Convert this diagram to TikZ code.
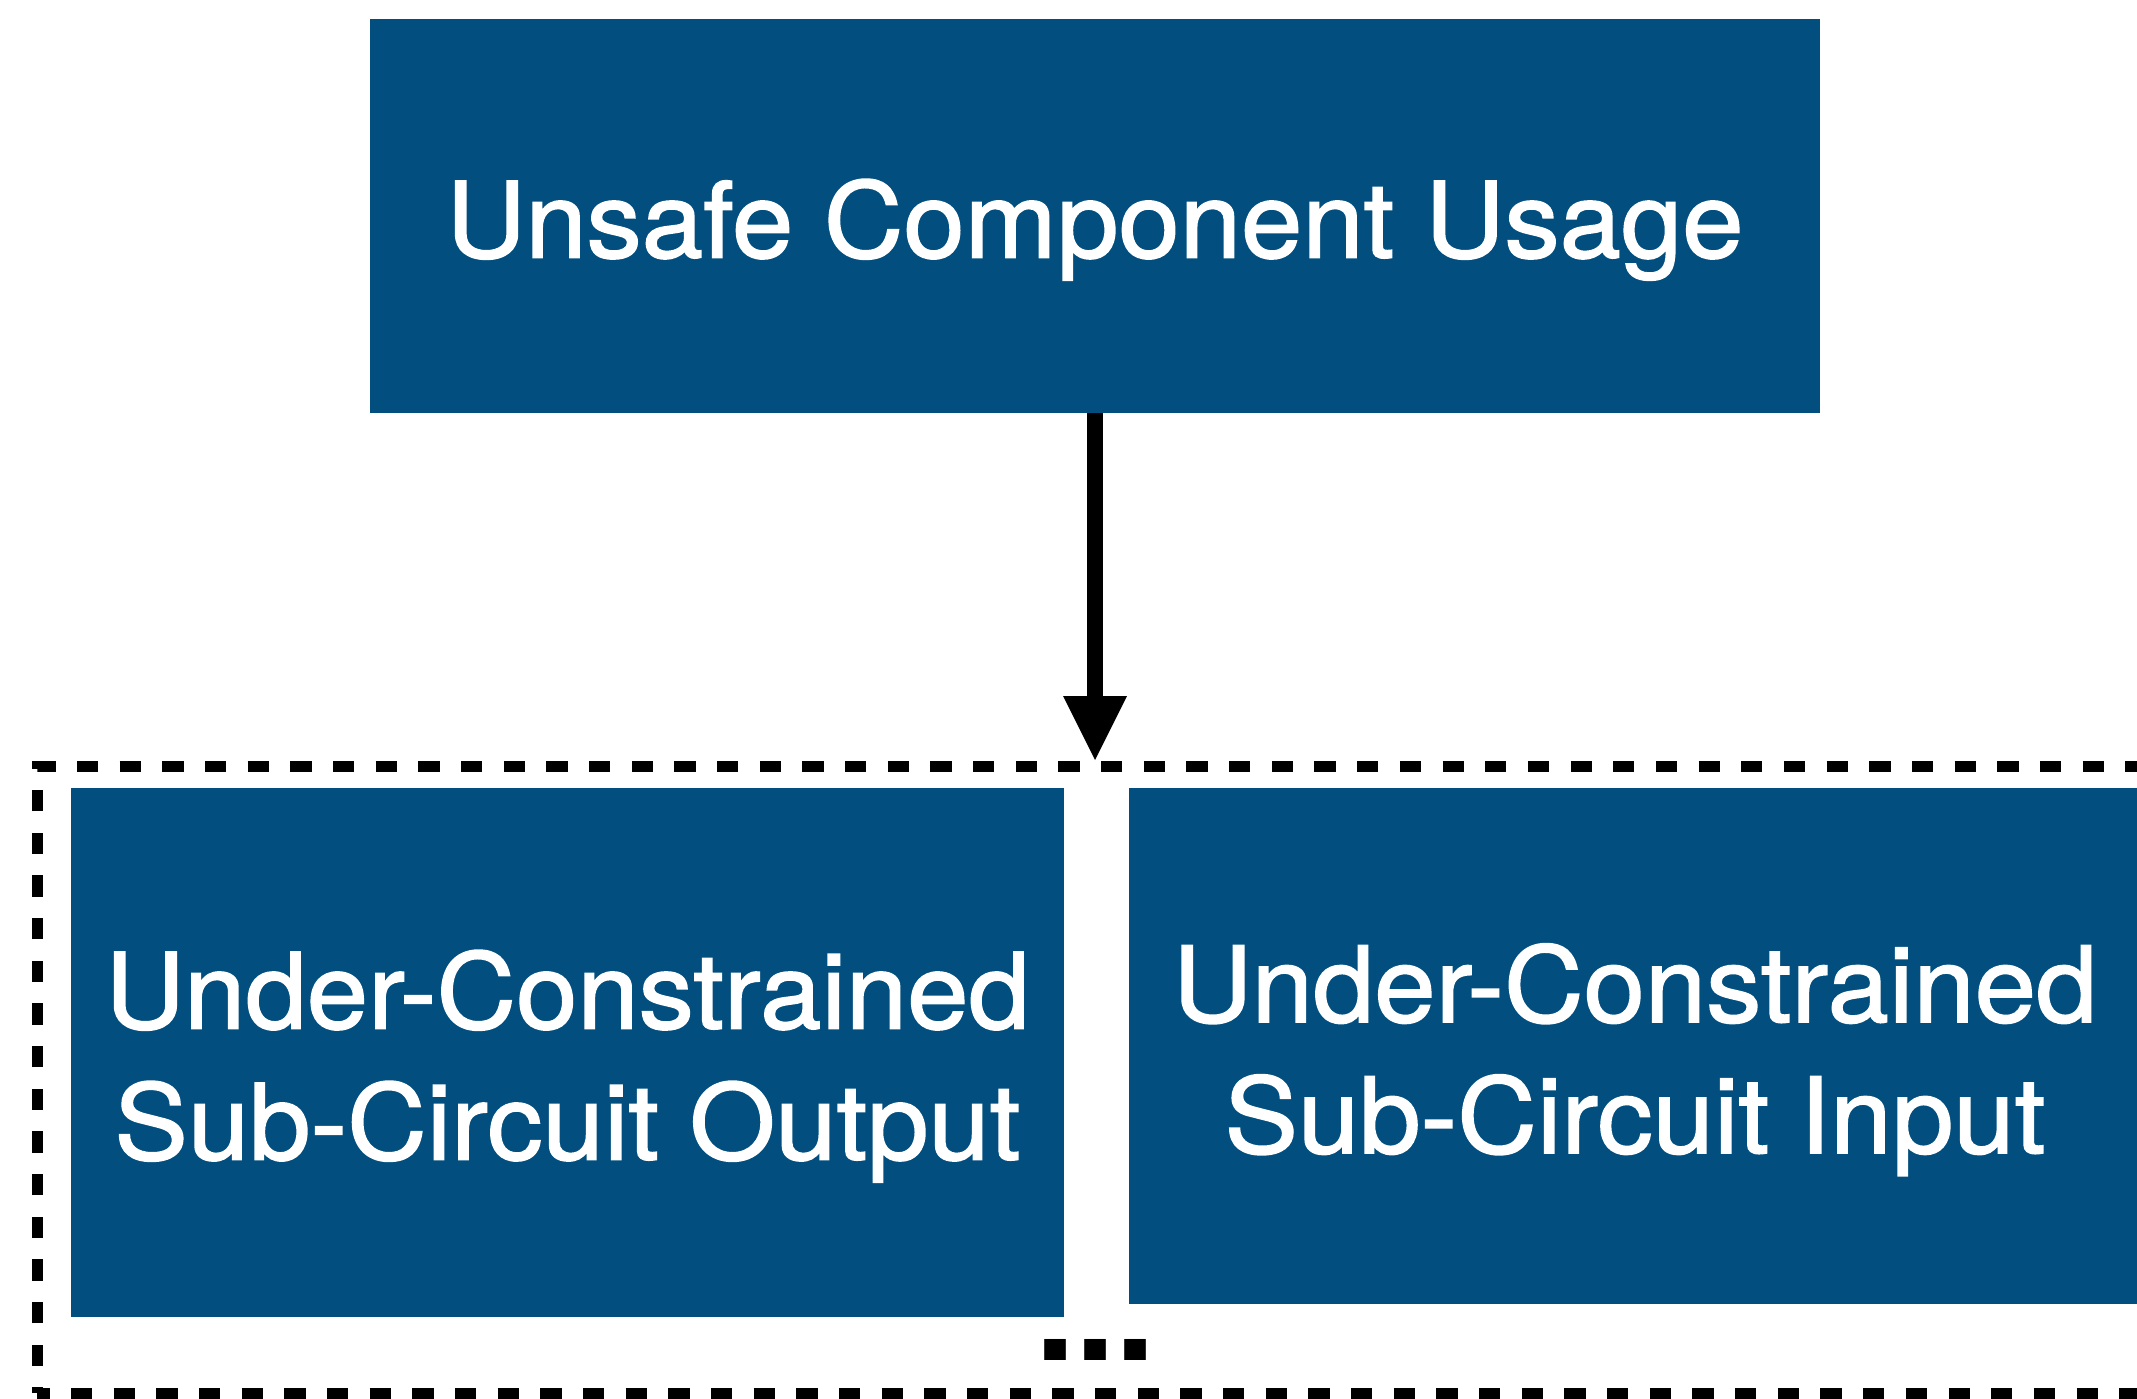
\documentclass[tikz,border=0pt]{standalone}
\usepackage{fontspec}
\setmainfont{TeX Gyre Heros}
\newfontfamily\boxfont{TeX Gyre Heros}[FakeStretch=1.05,FakeBold=1.5]
\usetikzlibrary{arrows.meta}
\definecolor{boxblue}{RGB}{2,79,127}
\begin{document}
\begin{tikzpicture}[x=1pt,y=-1pt,
  box/.style={fill=boxblue, draw=none, inner sep=0pt, text=white,
    font=\boxfont\fontsize{105}{131}\selectfont, align=center},
  oneline/.style={text height=100pt, text depth=17pt},
  twolines/.style={text height=231pt, text depth=17pt},
  frame/.style={line width=11pt, dash pattern=on 21.3pt off 21.37pt},
  link/.style={line width=16pt, -{Triangle[length=64pt,width=64pt,line width=0pt]}}]
\useasboundingbox (0,0) rectangle (2137,1398);

% boxes
\node[box,oneline,minimum width=1450pt,minimum height=394pt] (usage) at (1095,216) {Unsafe Component Usage};
\node[box,twolines,minimum width=993pt,minimum height=529pt] (output) at (567.5,1052.5) {Under-Constrained\\Sub-Circuit Output};
\node[box,twolines,minimum width=1012pt,minimum height=516pt] (input) at (1635,1046) {Under-Constrained\\Sub-Circuit Input};

% dashed group frame
\draw[frame, dash phase=15.67pt] (37,1393) -- (37,766) -- (2200,766);
\draw[frame, dash phase=8.67pt] (37,1393) -- (2200,1393);

% ellipsis inside the group
\node[anchor=base, inner sep=0pt, font=\fontsize{144}{144}\bfseries\selectfont] (more) at (1095.5,1360) {...};

% connector into the group
\coordinate (drop) at (1095,760);
\draw[link] (usage.south) -- (drop);
\end{tikzpicture}
\end{document}
